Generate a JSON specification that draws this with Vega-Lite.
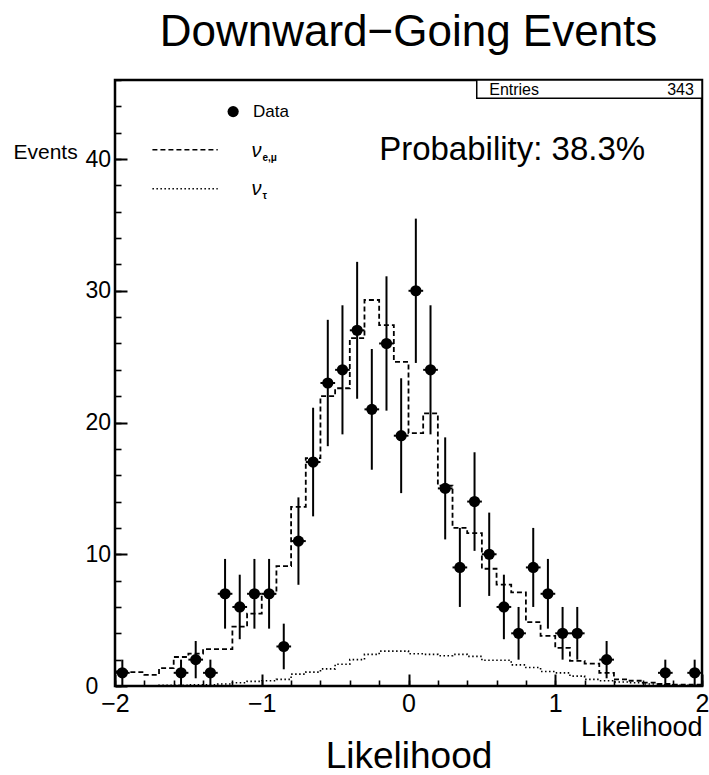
{
  "$schema": "https://vega.github.io/schema/vega-lite/v6.json",
  "width": 587,
  "height": 606,
  "autosize": {"type": "none"},
  "padding": {"left": 115, "top": 80, "right": 7, "bottom": 89},
  "background": "white",
  "config": {
    "view": {"stroke": "black", "strokeWidth": 2.5},
    "axis": {
      "grid": false,
      "domain": false,
      "labelFont": "Liberation Sans",
      "titleFont": "Liberation Sans",
      "labelColor": "black",
      "titleColor": "black",
      "tickColor": "black",
      "titleFontWeight": "normal"
    },
    "text": {"font": "Liberation Sans", "color": "black"}
  },
  "datasets": {
    "obs": [
      {"c": -1.95, "lo": -2.0, "hi": -1.9, "n": 1, "elo": 0, "ehi": 2},
      {"c": -1.55, "lo": -1.6, "hi": -1.5, "n": 1, "elo": 0, "ehi": 2},
      {"c": -1.45, "lo": -1.5, "hi": -1.4, "n": 2, "elo": 0.586, "ehi": 3.414},
      {"c": -1.35, "lo": -1.4, "hi": -1.3, "n": 1, "elo": 0, "ehi": 2},
      {"c": -1.25, "lo": -1.3, "hi": -1.2, "n": 7, "elo": 4.354, "ehi": 9.646},
      {"c": -1.15, "lo": -1.2, "hi": -1.1, "n": 6, "elo": 3.551, "ehi": 8.449},
      {"c": -1.05, "lo": -1.1, "hi": -1.0, "n": 7, "elo": 4.354, "ehi": 9.646},
      {"c": -0.95, "lo": -1.0, "hi": -0.9, "n": 7, "elo": 4.354, "ehi": 9.646},
      {"c": -0.85, "lo": -0.9, "hi": -0.8, "n": 3, "elo": 1.268, "ehi": 4.732},
      {"c": -0.75, "lo": -0.8, "hi": -0.7, "n": 11, "elo": 7.683, "ehi": 14.317},
      {"c": -0.65, "lo": -0.7, "hi": -0.6, "n": 17, "elo": 12.877, "ehi": 21.123},
      {"c": -0.55, "lo": -0.6, "hi": -0.5, "n": 23, "elo": 18.204, "ehi": 27.796},
      {"c": -0.45, "lo": -0.5, "hi": -0.4, "n": 24, "elo": 19.101, "ehi": 28.899},
      {"c": -0.35, "lo": -0.4, "hi": -0.3, "n": 27, "elo": 21.804, "ehi": 32.196},
      {"c": -0.25, "lo": -0.3, "hi": -0.2, "n": 21, "elo": 16.417, "ehi": 25.583},
      {"c": -0.15, "lo": -0.2, "hi": -0.1, "n": 26, "elo": 20.901, "ehi": 31.099},
      {"c": -0.05, "lo": -0.1, "hi": 0.0, "n": 19, "elo": 14.641, "ehi": 23.359},
      {"c": 0.05, "lo": 0.0, "hi": 0.1, "n": 30, "elo": 24.523, "ehi": 35.477},
      {"c": 0.15, "lo": 0.1, "hi": 0.2, "n": 24, "elo": 19.101, "ehi": 28.899},
      {"c": 0.25, "lo": 0.2, "hi": 0.3, "n": 15, "elo": 11.127, "ehi": 18.873},
      {"c": 0.35, "lo": 0.3, "hi": 0.4, "n": 9, "elo": 6, "ehi": 12},
      {"c": 0.45, "lo": 0.4, "hi": 0.5, "n": 14, "elo": 10.258, "ehi": 17.742},
      {"c": 0.55, "lo": 0.5, "hi": 0.6, "n": 10, "elo": 6.838, "ehi": 13.162},
      {"c": 0.65, "lo": 0.6, "hi": 0.7, "n": 6, "elo": 3.551, "ehi": 8.449},
      {"c": 0.75, "lo": 0.7, "hi": 0.8, "n": 4, "elo": 2, "ehi": 6},
      {"c": 0.85, "lo": 0.8, "hi": 0.9, "n": 9, "elo": 6, "ehi": 12},
      {"c": 0.95, "lo": 0.9, "hi": 1.0, "n": 7, "elo": 4.354, "ehi": 9.646},
      {"c": 1.05, "lo": 1.0, "hi": 1.1, "n": 4, "elo": 2, "ehi": 6},
      {"c": 1.15, "lo": 1.1, "hi": 1.2, "n": 4, "elo": 2, "ehi": 6},
      {"c": 1.35, "lo": 1.3, "hi": 1.4, "n": 2, "elo": 0.586, "ehi": 3.414},
      {"c": 1.75, "lo": 1.7, "hi": 1.8, "n": 1, "elo": 0, "ehi": 2},
      {"c": 1.95, "lo": 1.9, "hi": 2.0, "n": 1, "elo": 0, "ehi": 2}
    ],
    "mc": [
      {"lo": -2.0, "hi": -1.9, "emu": 1.1, "tau": 0.0},
      {"lo": -1.9, "hi": -1.8, "emu": 1.05, "tau": 0.0},
      {"lo": -1.8, "hi": -1.7, "emu": 0.85, "tau": 0.0},
      {"lo": -1.7, "hi": -1.6, "emu": 1.35, "tau": 0.05},
      {"lo": -1.6, "hi": -1.5, "emu": 2.2, "tau": 0.05},
      {"lo": -1.5, "hi": -1.4, "emu": 2.45, "tau": 0.1},
      {"lo": -1.4, "hi": -1.3, "emu": 2.8, "tau": 0.1},
      {"lo": -1.3, "hi": -1.2, "emu": 2.8, "tau": 0.15},
      {"lo": -1.2, "hi": -1.1, "emu": 4.5, "tau": 0.25},
      {"lo": -1.1, "hi": -1.0, "emu": 5.5, "tau": 0.35},
      {"lo": -1.0, "hi": -0.9, "emu": 7.0, "tau": 0.4},
      {"lo": -0.9, "hi": -0.8, "emu": 9.1, "tau": 0.5},
      {"lo": -0.8, "hi": -0.7, "emu": 13.6, "tau": 0.9},
      {"lo": -0.7, "hi": -0.6, "emu": 17.3, "tau": 1.05},
      {"lo": -0.6, "hi": -0.5, "emu": 22.0, "tau": 1.3},
      {"lo": -0.5, "hi": -0.4, "emu": 22.6, "tau": 1.65},
      {"lo": -0.4, "hi": -0.3, "emu": 26.4, "tau": 2.0},
      {"lo": -0.3, "hi": -0.2, "emu": 29.3, "tau": 2.4},
      {"lo": -0.2, "hi": -0.1, "emu": 27.4, "tau": 2.65},
      {"lo": -0.1, "hi": 0.0, "emu": 24.6, "tau": 2.65},
      {"lo": 0.0, "hi": 0.1, "emu": 19.2, "tau": 2.45},
      {"lo": 0.1, "hi": 0.2, "emu": 20.7, "tau": 2.4},
      {"lo": 0.2, "hi": 0.3, "emu": 15.2, "tau": 2.3},
      {"lo": 0.3, "hi": 0.4, "emu": 12.0, "tau": 2.4},
      {"lo": 0.4, "hi": 0.5, "emu": 11.6, "tau": 2.25},
      {"lo": 0.5, "hi": 0.6, "emu": 8.9, "tau": 1.95},
      {"lo": 0.6, "hi": 0.7, "emu": 7.7, "tau": 1.95},
      {"lo": 0.7, "hi": 0.8, "emu": 7.1, "tau": 1.6},
      {"lo": 0.8, "hi": 0.9, "emu": 4.85, "tau": 1.4},
      {"lo": 0.9, "hi": 1.0, "emu": 3.8, "tau": 1.1},
      {"lo": 1.0, "hi": 1.1, "emu": 2.9, "tau": 1.0},
      {"lo": 1.1, "hi": 1.2, "emu": 1.9, "tau": 0.75},
      {"lo": 1.2, "hi": 1.3, "emu": 1.7, "tau": 0.5},
      {"lo": 1.3, "hi": 1.4, "emu": 1.0, "tau": 0.4},
      {"lo": 1.4, "hi": 1.5, "emu": 0.5, "tau": 0.3},
      {"lo": 1.5, "hi": 1.6, "emu": 0.4, "tau": 0.25},
      {"lo": 1.6, "hi": 1.7, "emu": 0.25, "tau": 0.15},
      {"lo": 1.7, "hi": 1.8, "emu": 0.15, "tau": 0.1},
      {"lo": 1.8, "hi": 1.9, "emu": 0.1, "tau": 0.05},
      {"lo": 1.9, "hi": 2.0, "emu": 0.1, "tau": 0.05}
    ]
  },
  "resolve": {"axis": {"x": "independent", "y": "independent"}},
  "layer": [
    {
      "data": {"name": "obs"},
      "mark": {"type": "rule", "color": "black", "strokeWidth": 2},
      "encoding": {
        "x": {
          "field": "c", "type": "quantitative",
          "scale": {"domain": [-2, 2], "nice": false, "zero": false},
          "axis": {
            "orient": "bottom", "values": [-2, -1, 0, 1, 2], "ticks": false,
            "labelFontSize": 25, "labelPadding": 5, "labelFlush": false, "labelOverlap": false,
            "title": "Likelihood", "titleFontSize": 27, "titleAnchor": "end", "titleAlign": "right",
            "titleBaseline": "alphabetic", "titleY": 49
          }
        },
        "y": {
          "field": "elo", "type": "quantitative",
          "scale": {"domain": [0, 46], "nice": false, "zero": false},
          "axis": {
            "orient": "left", "values": [0, 10, 20, 30, 40], "ticks": false,
            "labelFontSize": 23, "labelAlign": "left", "labelBaseline": "middle", "labelPadding": 30,
            "labelFlush": false, "labelOverlap": false, "title": null
          }
        },
        "y2": {"field": "ehi"}
      }
    },
    {
      "data": {"name": "mc"},
      "transform": [{"fold": ["lo", "hi"], "as": ["side", "edge"]}],
      "mark": {"type": "line", "color": "black", "strokeWidth": 1.8, "strokeDash": [5, 3]},
      "encoding": {
        "x": {
          "field": "edge", "type": "quantitative",
          "scale": {"domain": [-2, 2], "nice": false, "zero": false},
          "axis": {
            "orient": "bottom", "values": [-2, -1, 0, 1, 2], "tickSize": -12, "tickWidth": 2,
            "labels": false, "title": "Likelihood", "titleFontSize": 37,
            "titleBaseline": "alphabetic", "titleY": 81
          }
        },
        "y": {
          "field": "emu", "type": "quantitative",
          "scale": {"domain": [0, 46], "nice": false, "zero": false},
          "axis": {
            "orient": "left", "values": [0, 10, 20, 30, 40], "tickSize": -12, "tickWidth": 2,
            "labels": false, "title": "Events", "titleFontSize": 21, "titleAngle": 0,
            "titleAlign": "left", "titleBaseline": "alphabetic", "titleX": -102, "titleY": 78
          }
        },
        "order": [{"field": "edge", "type": "quantitative"}, {"field": "side", "type": "ordinal"}]
      }
    },
    {
      "data": {"name": "mc"},
      "transform": [{"fold": ["lo", "hi"], "as": ["side", "edge"]}],
      "mark": {"type": "line", "color": "black", "strokeWidth": 1.6, "strokeDash": [1.5, 2.5]},
      "encoding": {
        "x": {
          "field": "edge", "type": "quantitative",
          "scale": {"domain": [-2, 2], "nice": false, "zero": false},
          "axis": {
            "orient": "bottom",
            "values": [-2, -1.8, -1.6, -1.4, -1.2, -1, -0.8, -0.6, -0.4, -0.2, 0, 0.2, 0.4, 0.6, 0.8, 1, 1.2, 1.4, 1.6, 1.8, 2],
            "tickSize": -6, "tickWidth": 1.6, "labels": false, "title": null
          }
        },
        "y": {
          "field": "tau", "type": "quantitative",
          "scale": {"domain": [0, 46], "nice": false, "zero": false},
          "axis": {
            "orient": "left",
            "values": [0, 2, 4, 6, 8, 10, 12, 14, 16, 18, 20, 22, 24, 26, 28, 30, 32, 34, 36, 38, 40, 42, 44, 46],
            "tickSize": -6, "tickWidth": 1.6, "labels": false, "title": null
          }
        },
        "order": [{"field": "edge", "type": "quantitative"}, {"field": "side", "type": "ordinal"}]
      }
    },
    {
      "data": {"name": "obs"},
      "mark": {"type": "rule", "color": "black", "strokeWidth": 2},
      "encoding": {
        "x": {"field": "lo", "type": "quantitative", "scale": {"domain": [-2, 2], "nice": false, "zero": false}, "axis": null},
        "x2": {"field": "hi"},
        "y": {"field": "n", "type": "quantitative", "scale": {"domain": [0, 46], "nice": false, "zero": false}, "axis": null}
      }
    },
    {
      "data": {"name": "obs"},
      "mark": {"type": "point", "filled": true, "color": "black", "opacity": 1, "size": 125},
      "encoding": {
        "x": {"field": "c", "type": "quantitative", "scale": {"domain": [-2, 2], "nice": false, "zero": false}, "axis": null},
        "y": {"field": "n", "type": "quantitative", "scale": {"domain": [0, 46], "nice": false, "zero": false}, "axis": null}
      }
    },
    {
      "data": {"values": [{}]},
      "mark": {"type": "text", "text": "Downward−Going Events", "fontSize": 44, "align": "center", "baseline": "alphabetic"},
      "encoding": {
        "x": {"datum": 0, "type": "quantitative", "scale": {"domain": [-2, 2], "nice": false, "zero": false}, "axis": null},
        "y": {"datum": 48.6, "type": "quantitative", "scale": {"domain": [0, 46], "nice": false, "zero": false}, "axis": null}
      }
    },
    {
      "data": {"values": [{}]},
      "mark": {"type": "rect", "fill": "white", "stroke": "black", "strokeWidth": 1.5},
      "encoding": {
        "x": {"datum": 0.465, "type": "quantitative", "scale": {"domain": [-2, 2], "nice": false, "zero": false}, "axis": null},
        "x2": {"datum": 2},
        "y": {"datum": 46, "type": "quantitative", "scale": {"domain": [0, 46], "nice": false, "zero": false}, "axis": null},
        "y2": {"datum": 44.62}
      }
    },
    {
      "data": {"values": [{}]},
      "mark": {"type": "text", "text": "Entries", "fontSize": 16, "align": "left", "baseline": "alphabetic"},
      "encoding": {
        "x": {"datum": 0.55, "type": "quantitative", "scale": {"domain": [-2, 2], "nice": false, "zero": false}, "axis": null},
        "y": {"datum": 44.85, "type": "quantitative", "scale": {"domain": [0, 46], "nice": false, "zero": false}, "axis": null}
      }
    },
    {
      "data": {"values": [{}]},
      "mark": {"type": "text", "text": "343", "fontSize": 16, "align": "right", "baseline": "alphabetic"},
      "encoding": {
        "x": {"datum": 1.945, "type": "quantitative", "scale": {"domain": [-2, 2], "nice": false, "zero": false}, "axis": null},
        "y": {"datum": 44.85, "type": "quantitative", "scale": {"domain": [0, 46], "nice": false, "zero": false}, "axis": null}
      }
    },
    {
      "data": {"values": [{}]},
      "mark": {"type": "text", "text": "Probability: 38.3%", "fontSize": 33, "align": "left", "baseline": "alphabetic"},
      "encoding": {
        "x": {"datum": -0.2, "type": "quantitative", "scale": {"domain": [-2, 2], "nice": false, "zero": false}, "axis": null},
        "y": {"datum": 39.89, "type": "quantitative", "scale": {"domain": [0, 46], "nice": false, "zero": false}, "axis": null}
      }
    },
    {
      "data": {"values": [{}]},
      "mark": {"type": "point", "filled": true, "color": "black", "opacity": 1, "size": 125},
      "encoding": {
        "x": {"datum": -1.195, "type": "quantitative", "scale": {"domain": [-2, 2], "nice": false, "zero": false}, "axis": null},
        "y": {"datum": 43.6, "type": "quantitative", "scale": {"domain": [0, 46], "nice": false, "zero": false}, "axis": null}
      }
    },
    {
      "data": {"values": [{}]},
      "mark": {"type": "text", "text": "Data", "fontSize": 17, "align": "left", "baseline": "alphabetic"},
      "encoding": {
        "x": {"datum": -1.06, "type": "quantitative", "scale": {"domain": [-2, 2], "nice": false, "zero": false}, "axis": null},
        "y": {"datum": 43.2, "type": "quantitative", "scale": {"domain": [0, 46], "nice": false, "zero": false}, "axis": null}
      }
    },
    {
      "data": {"values": [{}]},
      "mark": {"type": "rule", "color": "black", "strokeWidth": 1.5, "strokeDash": [5, 3]},
      "encoding": {
        "x": {"datum": -1.745, "type": "quantitative", "scale": {"domain": [-2, 2], "nice": false, "zero": false}, "axis": null},
        "x2": {"datum": -1.3},
        "y": {"datum": 40.7, "type": "quantitative", "scale": {"domain": [0, 46], "nice": false, "zero": false}, "axis": null}
      }
    },
    {
      "data": {"values": [{}]},
      "mark": {"type": "rule", "color": "black", "strokeWidth": 1.4, "strokeDash": [1.5, 2.5]},
      "encoding": {
        "x": {"datum": -1.745, "type": "quantitative", "scale": {"domain": [-2, 2], "nice": false, "zero": false}, "axis": null},
        "x2": {"datum": -1.3},
        "y": {"datum": 37.74, "type": "quantitative", "scale": {"domain": [0, 46], "nice": false, "zero": false}, "axis": null}
      }
    },
    {
      "data": {"values": [{}]},
      "mark": {"type": "text", "text": "ν", "fontSize": 20, "fontStyle": "italic", "align": "left", "baseline": "alphabetic"},
      "encoding": {
        "x": {"datum": -1.07, "type": "quantitative", "scale": {"domain": [-2, 2], "nice": false, "zero": false}, "axis": null},
        "y": {"datum": 40.17, "type": "quantitative", "scale": {"domain": [0, 46], "nice": false, "zero": false}, "axis": null}
      }
    },
    {
      "data": {"values": [{}]},
      "mark": {"type": "text", "text": "e,μ", "fontSize": 10, "fontWeight": "bold", "align": "left", "baseline": "alphabetic"},
      "encoding": {
        "x": {"datum": -0.995, "type": "quantitative", "scale": {"domain": [-2, 2], "nice": false, "zero": false}, "axis": null},
        "y": {"datum": 39.88, "type": "quantitative", "scale": {"domain": [0, 46], "nice": false, "zero": false}, "axis": null}
      }
    },
    {
      "data": {"values": [{}]},
      "mark": {"type": "text", "text": "ν", "fontSize": 20, "fontStyle": "italic", "align": "left", "baseline": "alphabetic"},
      "encoding": {
        "x": {"datum": -1.07, "type": "quantitative", "scale": {"domain": [-2, 2], "nice": false, "zero": false}, "axis": null},
        "y": {"datum": 37.28, "type": "quantitative", "scale": {"domain": [0, 46], "nice": false, "zero": false}, "axis": null}
      }
    },
    {
      "data": {"values": [{}]},
      "mark": {"type": "text", "text": "τ", "fontSize": 10, "fontWeight": "bold", "align": "left", "baseline": "alphabetic"},
      "encoding": {
        "x": {"datum": -0.995, "type": "quantitative", "scale": {"domain": [-2, 2], "nice": false, "zero": false}, "axis": null},
        "y": {"datum": 36.98, "type": "quantitative", "scale": {"domain": [0, 46], "nice": false, "zero": false}, "axis": null}
      }
    }
  ]
}
